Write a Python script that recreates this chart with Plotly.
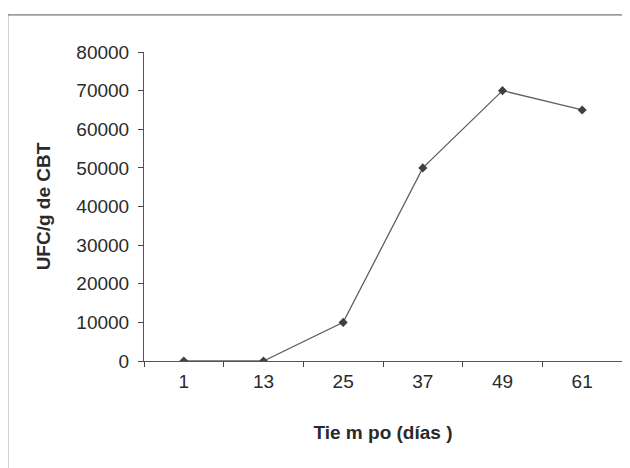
import plotly.graph_objects as go

dias = ["1", "13", "25", "37", "49", "61"]
ufc = [0, 0, 10000, 50000, 70000, 65000]
y_ticks = [0, 10000, 20000, 30000, 40000, 50000, 60000, 70000, 80000]

FONT = "Liberation Sans, Arial, sans-serif"

fig = go.Figure()
fig.add_trace(go.Scatter(
    x=dias, y=ufc, mode="lines+markers",
    line=dict(color="#606060", width=1.3),
    marker=dict(symbol="diamond", size=7, color="#404040"),
    showlegend=False,
))

fig.update_layout(
    width=630, height=468,
    margin=dict(l=136, r=16, t=44, b=115),
    paper_bgcolor="white", plot_bgcolor="white",
    font=dict(family=FONT, size=19, color="#2a2a2a"),
    xaxis=dict(
        type="category", tickson="boundaries", ticks="outside", ticklen=5,
        tickcolor="#444", showline=True, linecolor="#555", linewidth=1,
        showgrid=False, zeroline=False, range=[-0.5, 5.5], ticklabelstandoff=3,
        title=dict(text="<b>Tie m po (días )</b>", standoff=34,
                   font=dict(size=19, family=FONT)),
    ),
    yaxis=dict(
        range=[0, 80000], tickvals=y_ticks, ticks="outside", ticklen=5,
        tickcolor="#444", showline=True, linecolor="#555", linewidth=1,
        showgrid=False, zeroline=False, tickformat="d", ticklabelstandoff=5,
        title=dict(text="<b>UFC/g de CBT</b>", standoff=20,
                   font=dict(size=19, family=FONT)),
    ),
    shapes=[
        dict(type="line", xref="paper", yref="paper", x0=-0.285, x1=1.05, y0=1.12, y1=1.12,
             line=dict(color="#555", width=1)),
        dict(type="line", xref="paper", yref="paper", x0=-0.285, x1=-0.285, y0=1.12, y1=-0.4,
             line=dict(color="#555", width=1)),
    ],
)

fig.write_html("out.html")
